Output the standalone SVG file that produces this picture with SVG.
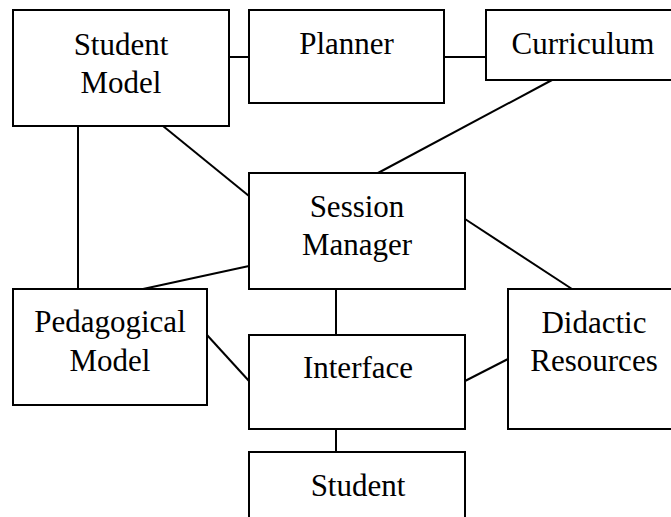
<svg xmlns="http://www.w3.org/2000/svg" width="671" height="517" viewBox="0 0 671 517">
<style>
.box{fill:#fff;stroke:#000;stroke-width:2}
.lbl{font-family:"Liberation Serif","Times New Roman",serif;font-size:31px;fill:#000;text-anchor:middle}
.con line{stroke:#000;stroke-width:2}
</style>
<rect width="671" height="517" fill="#fff"/>
<g class="con" id="connectors">
<line x1="229" y1="57" x2="249" y2="57"/>
<line x1="444" y1="57" x2="486" y2="57"/>
<line x1="552" y1="80" x2="378" y2="173"/>
<line x1="163" y1="126" x2="249" y2="196"/>
<line x1="78" y1="126" x2="78" y2="289"/>
<line x1="249" y1="266" x2="143" y2="289"/>
<line x1="336" y1="289" x2="336" y2="335"/>
<line x1="465" y1="219" x2="572" y2="289"/>
<line x1="207" y1="335" x2="249" y2="381"/>
<line x1="465" y1="381" x2="508" y2="359"/>
<line x1="336" y1="429" x2="336" y2="452"/>
</g>
<g id="student-model"><rect class="box" x="13" y="10" width="216" height="116"/><text class="lbl" x="121" y="55">Student</text><text class="lbl" x="121" y="93">Model</text></g>
<g id="planner"><rect class="box" x="249" y="10" width="195" height="93"/><text class="lbl" x="346.5" y="54">Planner</text></g>
<g id="curriculum"><rect class="box" x="486" y="10" width="194" height="70"/><text class="lbl" x="583" y="54">Curriculum</text></g>
<g id="session-manager"><rect class="box" x="249" y="173" width="216" height="116"/><text class="lbl" x="357" y="217">Session</text><text class="lbl" x="357" y="255">Manager</text></g>
<g id="pedagogical-model"><rect class="box" x="13" y="289" width="194" height="116"/><text class="lbl" x="110" y="332">Pedagogical</text><text class="lbl" x="110" y="371">Model</text></g>
<g id="interface"><rect class="box" x="249" y="335" width="216" height="94"/><text class="lbl" x="358" y="378">Interface</text></g>
<g id="didactic-resources"><rect class="box" x="508" y="289" width="172" height="140"/><text class="lbl" x="594" y="333">Didactic</text><text class="lbl" x="594" y="371">Resources</text></g>
<g id="student"><rect class="box" x="249" y="452" width="216" height="80"/><text class="lbl" x="358" y="496">Student</text></g>
</svg>
